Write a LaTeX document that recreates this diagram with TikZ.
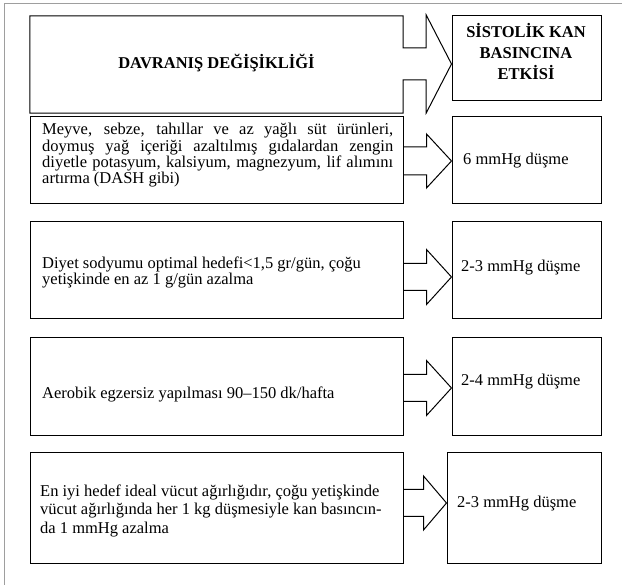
\documentclass[tikz,border=0pt]{standalone}
\usepackage{fontspec}
\setmainfont{Liberation Serif}
\usetikzlibrary{calc}
\newcommand\blockarrow[6]{% #1 left node, #2 right node, #3 centre y, #4 shaft half, #5 head half, #6 shaft length
  \coordinate (s#1) at (#1.east |- 0,#3);
  \coordinate (t#1) at (#2.west |- 0,#3);
  \draw[blockarr] ($(s#1)+(0,-#4)$) -- ++(#6,0) -- ++(0,-#5+#4) -- (t#1)
    -- ($(s#1)+(#6,#5)$) -- ++(0,-#5+#4) -- ($(s#1)+(0,#4)$);
}
\begin{document}
\begin{tikzpicture}[x=1pt,y=-1pt,
  box/.style={draw=black,line width=1pt,inner sep=0pt,minimum width=373pt},
  rbox/.style={draw=black,line width=1pt,inner sep=0pt,minimum width=149pt},
  blockarr/.style={draw=black,line width=1pt,line join=miter},
  txt/.style={inner sep=0pt,font=\fontsize{16.5}{16.3}\selectfont},
  framec/.style={draw=black!38,line width=1pt}]
\useasboundingbox (0,0) rectangle (622,585);
\draw[framec] (4.5,585) -- (4.5,3.5) -- (622,3.5);
% header
\node[inner sep=0pt,minimum width=373pt,minimum height=97pt] (h) at (216.5,64.5) {};
\node[rbox,minimum height=85pt] (hr) at (526.5,58.5) {};
\coordinate (ht1) at (h.east |- 0,48);
\coordinate (ht2) at (h.east |- 0,80);
\coordinate (htip) at (hr.west |- 0,64);
\draw[blockarr] (h.north west) -- (h.north east) -- (ht1) -- ++(23,0) -- ++(0,-33)
  -- (htip) -- ($(ht1)+(23,65)$) -- ++(0,-33) -- (ht2) -- (h.south east) -- (h.south west) -- cycle;
\node[txt,anchor=base,font=\fontsize{16.5}{21}\selectfont\bfseries] (htx) at (216.5,69) {DAVRANIŞ DEĞİŞİKLİĞİ};
\node[txt,anchor=base,font=\fontsize{16.5}{21}\selectfont\bfseries] (hrtx) at (526,38)
  {\parbox[t]{149pt}{\centering SİSTOLİK KAN\\BASINCINA\\ETKİSİ}};
% boxes
\node[box,minimum height=87pt] (l1) at (216.5,160.5) {};
\node[rbox,minimum height=87pt] (r1) at (526.5,160.5) {};
\node[box,minimum height=97pt] (l2) at (216.5,270.5) {};
\node[rbox,minimum height=97pt] (r2) at (526.5,270.5) {};
\node[box,minimum height=98pt] (l3) at (216.5,387) {};
\node[rbox,minimum height=98pt] (r3) at (526.5,387) {};
\node[box,minimum height=111pt] (l4) at (216.5,508.5) {};
\node[rbox,minimum height=111pt,minimum width=154pt] (r4) at (524,508.5) {};
% arrows
\blockarrow{l1}{r1}{161}{14}{27}{23}
\blockarrow{l2}{r2}{277}{13.5}{27.5}{23}
\blockarrow{l3}{r3}{388}{13.5}{27.5}{23}
\blockarrow{l4}{r4}{503}{13.5}{27}{20}
% texts
\node[txt,anchor=base west] (t1) at (42,135) {\parbox[t]{351pt}{\lineskiplimit=-100pt
  \makebox[\linewidth][s]{Meyve, sebze, tahıllar ve az yağlı süt ürünleri,}\\
  \makebox[\linewidth][s]{doymuş yağ içeriği azaltılmış gıdalardan zengin}\\
  \makebox[\linewidth][s]{diyetle potasyum, kalsiyum, magnezyum, lif alımını}\\
  artırma (DASH gibi)}};
\node[txt,anchor=base west,font=\fontsize{16.5}{15.5}\selectfont] (t2) at (42,269) {\parbox[t]{351pt}{\lineskiplimit=-100pt
  Diyet sodyumu optimal hedefi<1,5 gr/gün, çoğu\\
  yetişkinde en az 1 g/gün azalma}};
\node[txt,anchor=base west] (t3) at (42,399) {Aerobik egzersiz yapılması 90--150 dk/hafta};
\node[txt,anchor=base west,font=\fontsize{16.5}{18}\selectfont] (t4) at (40,497) {\parbox[t]{351pt}{\lineskiplimit=-100pt
  En iyi hedef ideal vücut ağırlığıdır, çoğu yetişkinde\\
  vücut ağırlığında her 1 kg düşmesiyle kan basıncın-\\
  da 1 mmHg azalma}};
\node[txt,anchor=base west] (u1) at (463,165) {6 mmHg düşme};
\node[txt,anchor=base west] (u2) at (461,272) {2-3 mmHg düşme};
\node[txt,anchor=base west] (u3) at (461,386) {2-4 mmHg düşme};
\node[txt,anchor=base west] (u4) at (457,508) {2-3 mmHg düşme};
\end{tikzpicture}
\end{document}
